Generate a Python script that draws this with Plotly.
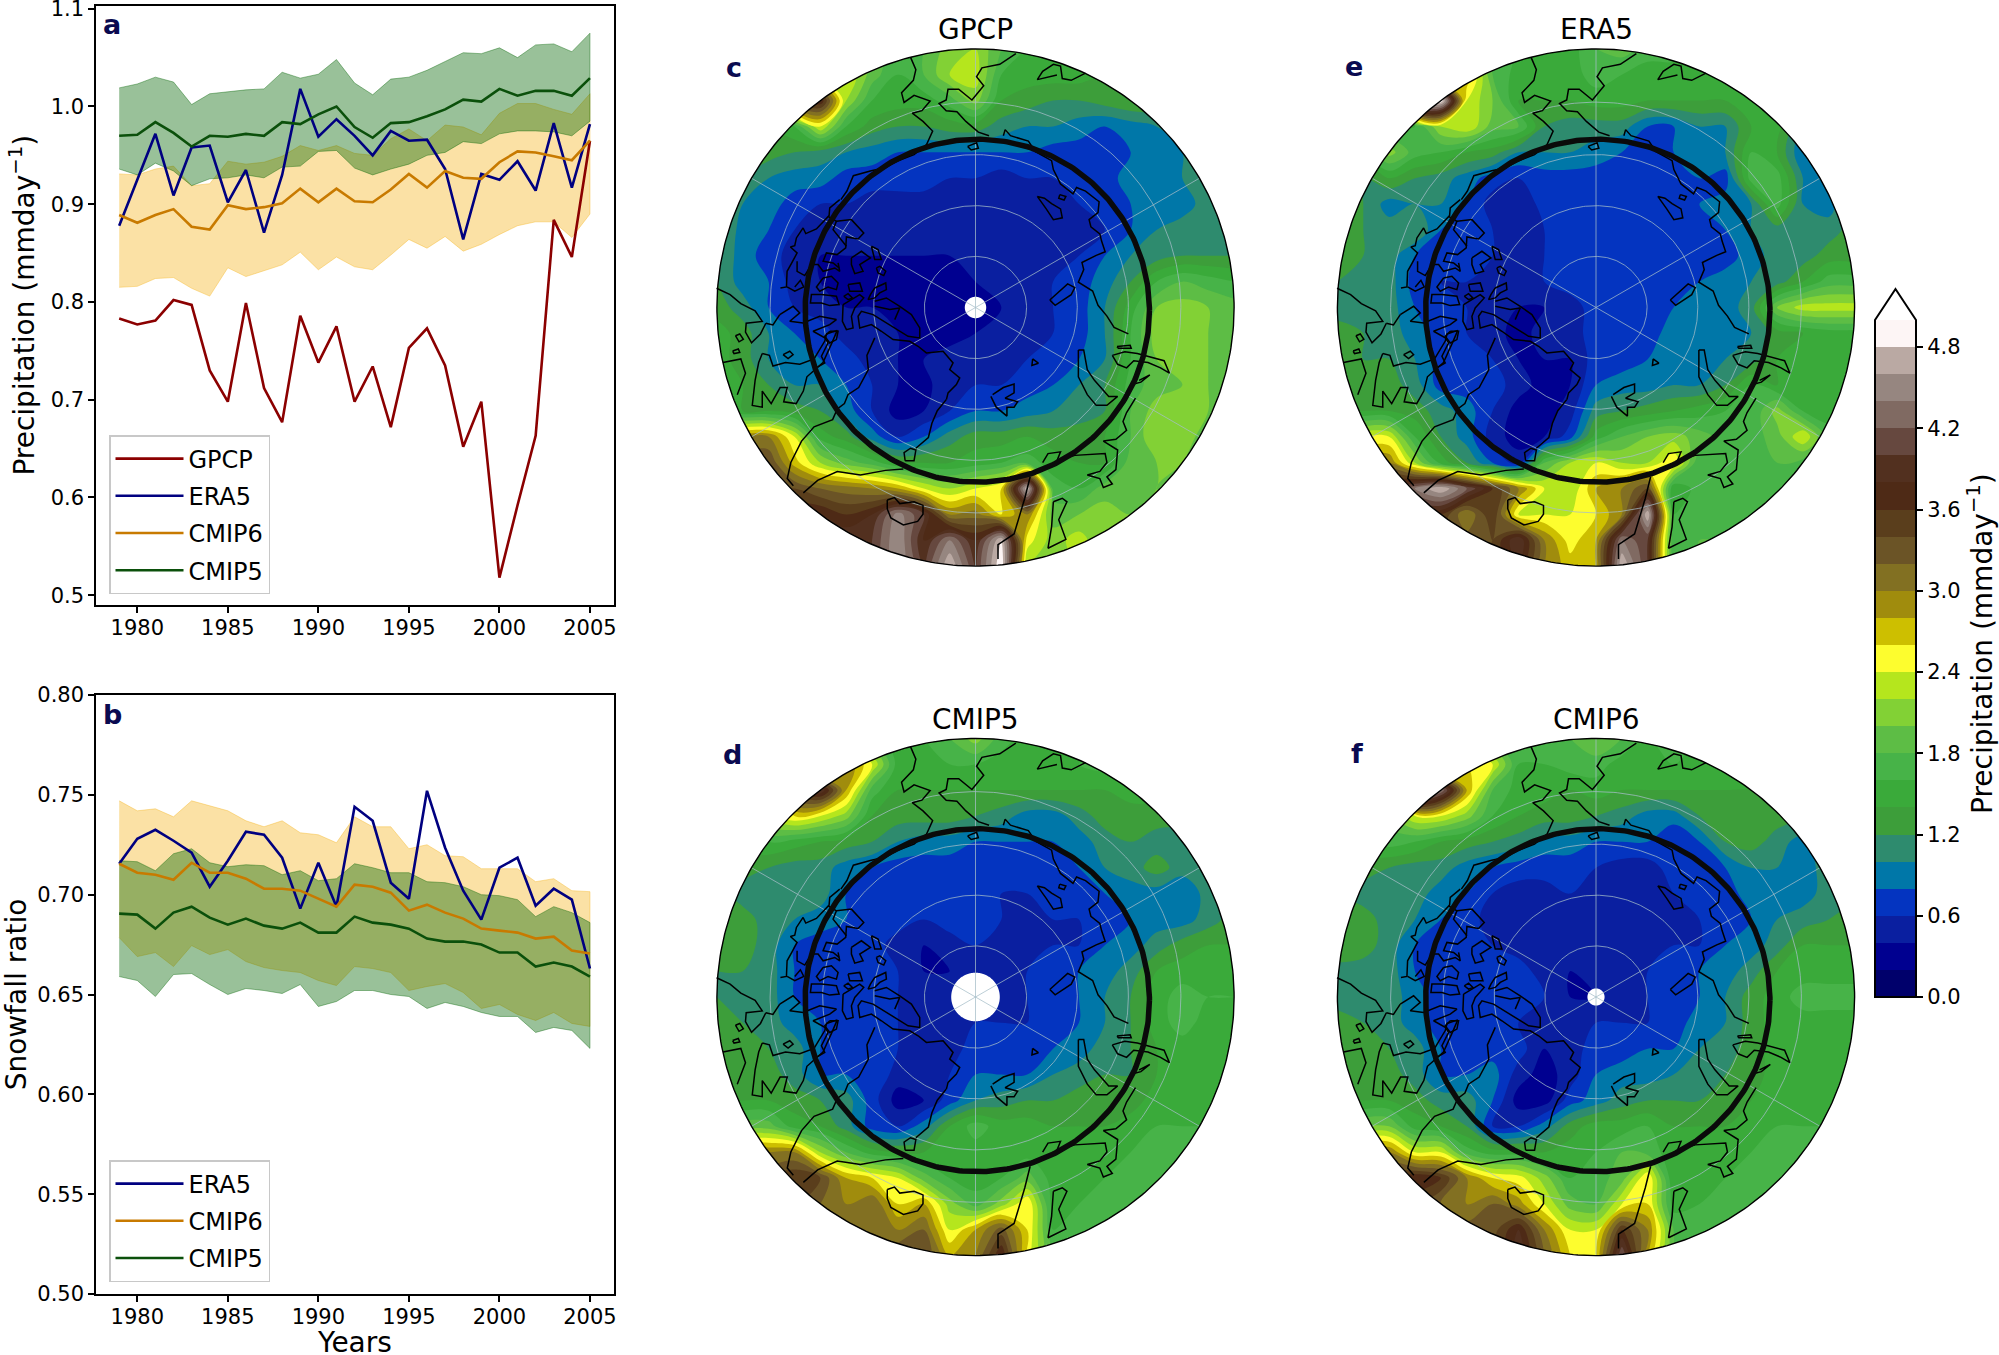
import numpy as np
import plotly.graph_objects as go

W, H = 1999, 1355
FONT = "DejaVu Sans"

# ---------- time series ----------
YEARS = list(range(1979, 2006))

A_GPCP = [.783, .777, .781, .802, .797, .730, .698, .799, .712, .677, .786, .738, .775, .698, .734, .672, .753, .773, .735, .652, .698, .518, .592, .663, .884, .846, .965]
A_ERA5 = [.878, .926, .972, .909, .958, .960, .902, .935, .871, .930, 1.018, .969, .987, .970, .950, .975, .965, .966, .936, .864, .931, .925, .944, .914, .983, .917, .982]
A_CMIP6 = [.889, .881, .889, .895, .877, .874, .899, .895, .897, .901, .916, .902, .916, .903, .902, .915, .931, .917, .934, .927, .926, .943, .954, .953, .949, .945, .965]
A_CMIP5 = [.970, .971, .984, .973, .959, .970, .969, .972, .970, .984, .982, .992, 1.000, .979, .968, .983, .984, .990, .997, 1.007, 1.005, 1.018, 1.011, 1.016, 1.016, 1.011, 1.029]
A_CMIP5_HI = [1.019, 1.023, 1.030, 1.025, 1.002, 1.013, 1.015, 1.017, 1.018, 1.035, 1.029, 1.033, 1.048, 1.024, 1.012, 1.028, 1.030, 1.037, 1.046, 1.055, 1.054, 1.060, 1.050, 1.063, 1.064, 1.056, 1.075]
A_CMIP5_LO = [.936, .930, .942, .934, .919, .926, .927, .930, .927, .938, .939, .954, .955, .937, .930, .936, .941, .950, .953, .964, .962, .972, .975, .975, .974, .970, .985]
A_CMIP6_HI = [.931, .930, .936, .939, .919, .921, .944, .941, .943, .949, .960, .955, .960, .952, .950, .967, .977, .965, .981, .979, .971, .993, 1.003, 1.003, .997, .992, 1.013]
A_CMIP6_LO = [.815, .816, .824, .825, .814, .806, .835, .826, .832, .838, .851, .833, .846, .836, .833, .848, .864, .855, .867, .852, .859, .869, .878, .882, .882, .866, .890]

B_ERA5 = [.7155, .728, .7325, .727, .721, .704, .717, .7315, .730, .7185, .693, .716, .694, .744, .737, .706, .698, .752, .7235, .702, .6875, .7135, .7185, .6945, .703, .6975, .663]
B_CMIP6 = [.7155, .711, .710, .7075, .716, .711, .711, .708, .703, .703, .702, .698, .694, .705, .704, .701, .692, .695, .691, .688, .683, .682, .681, .678, .679, .672, .6705]
B_CMIP5 = [.6905, .690, .683, .691, .694, .6885, .685, .688, .6845, .683, .686, .681, .681, .689, .686, .685, .683, .678, .6765, .6765, .675, .671, .671, .664, .666, .664, .659]
B_CMIP6_HI = [.747, .742, .743, .739, .747, .7445, .742, .737, .734, .737, .731, .730, .726, .739, .734, .734, .723, .725, .7195, .719, .713, .713, .713, .7065, .708, .702, .7015]
B_CMIP6_LO = [.6785, .669, .671, .664, .6745, .670, .6725, .6665, .6635, .662, .661, .657, .6545, .664, .663, .661, .652, .654, .6555, .651, .643, .645, .640, .637, .641, .6355, .634]
B_CMIP5_HI = [.717, .7165, .712, .7205, .723, .716, .714, .715, .7145, .710, .712, .707, .708, .7155, .7135, .711, .711, .7065, .706, .704, .700, .6995, .6975, .689, .694, .691, .686]
B_CMIP5_LO = [.659, .657, .649, .660, .6605, .655, .650, .653, .652, .6505, .655, .644, .6465, .652, .652, .650, .649, .643, .646, .644, .641, .639, .639, .631, .6335, .632, .623]

# ---------- maps: precipitation in tenths of mm/day, north to south ----------
MAP_X = np.linspace(48, 1496, 21)
MAP_Y = np.linspace(82, 1530, 21)

GPCP_MAP = [
    [14,14,14,14,14,20,20,16,18,21,22,18,16,15,15,15,15,15,15,15,15],
    [14,14,14,14,20,24,19,16,18,22,23,16,15,15,15,14,14,14,14,14,14],
    [14,14,16,36,38,22,16,15,15,17,21,14,13,12,12,13,14,14,14,14,14],
    [13,13,14,16,24,16,13,12,12,13,13,11,10,10,9,8,9,10,11,13,13],
    [13,13,13,12,11,10,9,8,8,8,8,8,8,7,7,6,8,9,10,12,13],
    [13,12,10,9,9,7,7,7,7,6,6,5,6,6,8,7,9,9,10,12,12],
    [13,10,9,7,6,6,5,5,5,5,5,5,5,5,6,7,8,9,9,11,12],
    [13,9,8,6,5,5,5,5,5,5,5,5,5,5,6,6,8,10,11,11,12],
    [12,9,7,5,4,4,4,4,4,4,5,5,5,5,6,8,10,11,12,12,12],
    [12,9,8,5,4,4,4,3,3,4,4,5,5,6,7,9,12,16,18,17,16],
    [13,11,8,6,5,4,4,4,3,3,3,4,5,6,7,10,15,20,21,20,19],
    [15,13,10,8,7,5,5,4,4,3,4,5,6,6,7,10,16,21,22,20,19],
    [15,13,10,9,8,7,5,4,4,5,5,5,6,7,8,10,16,20,21,20,19],
    [15,14,12,10,10,8,6,4,3,6,6,6,7,8,10,12,17,19,20,20,19],
    [15,14,14,13,12,9,6,3,4,6,8,8,9,10,11,12,18,21,21,20,19],
    [30,30,30,24,15,13,9,6,8,11,13,13,14,13,13,14,18,22,21,19,19],
    [34,34,34,27,22,19,17,14,14,14,15,16,17,15,14,14,19,20,20,19,19],
    [34,34,34,34,32,31,30,28,24,22,24,26,48,17,16,19,19,20,19,19,19],
    [38,38,38,38,38,36,38,45,40,30,31,26,30,19,20,21,20,20,20,20,20],
    [40,40,40,40,40,40,40,46,38,44,38,48,25,21,23,20,20,20,20,20,20],
    [40,40,40,40,40,40,40,46,40,48,40,50,22,21,22,20,20,20,20,20,20],
]
ERA5_MAP = [
    [16,16,16,16,16,22,18,16,15,15,18,19,17,17,16,16,16,16,16,16,16],
    [16,16,16,16,18,28,18,15,15,15,17,16,15,15,15,16,16,16,16,16,16],
    [16,16,16,50,50,24,20,14,14,14,15,15,14,14,14,14,16,16,16,16,16],
    [15,15,15,16,22,24,19,18,12,11,11,11,8,8,10,10,14,15,10,13,15],
    [15,15,21,17,16,14,13,10,10,10,9,8,8,8,9,10,16,14,8,10,15],
    [15,12,14,12,11,9,7,6,7,7,7,7,7,7,8,7,17,17,10,10,13],
    [14,12,9,10,10,8,5,4,7,7,7,7,7,7,8,9,10,17,10,9,13],
    [13,12,11,12,8,7,6,4,6,7,7,7,7,7,7,8,10,11,11,11,13],
    [13,12,11,8,7,7,6,6,6,7,7,7,7,7,7,7,9,11,11,13,13],
    [12,12,11,7,6,6,6,6,6,7,7,7,7,7,8,9,10,11,14,17,17],
    [11,11,11,8,7,6,5,4,4,5,7,7,7,8,9,9,11,20,23,23,23],
    [13,12,11,9,7,6,5,3,5,5,7,7,7,9,9,10,10,13,14,15,15],
    [13,12,12,10,7,7,6,4,4,4,7,7,8,9,10,10,11,14,15,15,14],
    [13,13,13,11,7,7,7,5,3,4,8,9,9,10,10,12,16,14,15,15,14],
    [14,14,14,13,11,9,6,3,3,5,11,12,13,14,15,16,16,21,16,15,15],
    [20,24,24,16,12,9,5,3,4,7,15,18,20,21,19,17,17,19,24,17,17],
    [30,30,30,22,15,12,8,5,18,22,24,22,22,26,16,17,17,18,17,17,17],
    [40,40,40,44,48,42,36,30,24,22,28,30,34,14,17,17,17,17,17,17,17],
    [36,36,36,36,36,30,36,24,24,24,26,30,48,16,17,17,18,18,18,18,18],
    [34,34,34,34,34,33,34,40,30,25,28,44,40,16,18,18,18,18,18,18,18],
    [34,34,34,34,34,33,34,38,30,27,28,48,40,16,18,18,18,18,18,18,18],
]
CMIP5_MAP = [
    [15,15,15,15,15,20,17,15,16,18,21,17,15,15,15,15,15,15,15,15,15],
    [15,15,15,15,18,30,24,15,15,16,16,15,15,15,16,17,17,16,16,16,16],
    [15,15,16,36,40,28,17,14,14,14,14,14,14,14,14,14,15,15,15,15,15],
    [16,16,23,26,24,21,14,13,13,13,12,11,9,9,11,13,13,13,13,14,14],
    [16,15,16,15,14,13,12,10,9,9,8,8,8,8,9,11,12,11,11,13,14],
    [14,13,12,11,11,9,8,7,7,7,7,7,7,7,8,10,11,13,11,12,13],
    [13,11,11,11,11,8,7,7,7,7,7,6,6,7,7,8,9,9,8,11,13],
    [14,13,11,10,9,8,7,7,6,7,7,6,6,6,6,7,8,9,9,11,13],
    [14,13,11,8,7,7,7,5,4,5,6,6,6,6,6,8,9,11,13,14,14],
    [12,12,11,8,7,7,7,6,4,4,6,6,6,7,8,9,11,14,15,15,15],
    [12,12,11,8,7,7,7,6,5,5,6,6,6,7,8,10,12,15,17,16,16],
    [13,12,11,9,8,7,7,6,5,4,6,6,6,7,8,10,12,15,17,15,15],
    [14,13,12,11,8,7,7,6,4,5,7,7,7,8,9,11,12,14,15,15,15],
    [14,14,13,11,8,8,8,5,5,6,8,8,8,10,11,12,12,14,15,15,15],
    [14,14,14,13,12,11,7,3,4,7,10,11,12,12,13,13,13,15,15,15,15],
    [17,19,19,15,14,11,7,6,9,14,17,15,15,14,14,14,15,16,16,16,16],
    [30,30,30,30,22,18,15,14,14,15,15,15,15,15,15,15,16,17,17,17,17],
    [34,34,34,36,34,28,26,24,19,16,15,16,19,15,15,16,16,16,16,16,16],
    [34,34,34,34,32,30,32,26,28,21,17,21,26,15,16,16,16,16,16,16,16],
    [32,32,32,32,32,32,32,30,32,24,28,33,26,16,16,16,16,16,16,16,16],
    [32,32,32,32,32,32,32,34,34,28,30,38,25,18,16,16,16,16,16,16,16],
]
CMIP6_MAP = [
    [16,16,16,16,16,19,17,16,17,18,20,18,16,16,16,16,16,16,16,16,16],
    [16,16,16,16,18,26,24,16,16,17,17,15,15,16,15,15,15,15,15,15,15],
    [16,16,18,50,44,28,18,15,15,14,15,14,14,14,14,14,14,15,15,15,15],
    [16,16,19,24,24,21,16,14,13,13,12,11,9,9,12,14,14,13,13,14,14],
    [16,16,17,16,14,13,12,11,9,9,8,8,8,6,8,12,13,11,9,13,14],
    [14,13,12,11,11,9,8,7,7,7,6,5,5,7,7,8,10,10,9,11,13],
    [12,11,11,11,9,8,6,5,5,6,6,4,5,6,7,7,9,9,9,11,12],
    [13,13,11,10,8,7,5,5,5,5,5,4,6,6,6,7,8,10,11,12,13],
    [14,13,11,8,7,7,6,5,5,5,4,6,6,6,6,8,9,11,14,14,14],
    [11,11,11,8,7,7,7,7,5,4,5,6,6,7,8,9,11,14,15,15,15],
    [11,11,11,9,7,6,7,7,6,4,4,6,6,7,8,10,13,15,17,17,17],
    [13,12,11,9,7,7,7,6,5,5,6,6,6,7,9,10,13,15,15,15,15],
    [14,13,12,11,8,7,7,7,4,5,7,7,8,8,10,11,13,15,15,15,15],
    [14,14,13,11,8,8,9,5,3,5,8,9,9,10,11,12,13,15,15,15,15],
    [14,14,14,13,11,11,8,3,3,7,9,11,12,12,12,13,14,15,15,15,15],
    [18,20,20,15,14,12,6,6,9,13,15,15,16,14,14,14,15,16,16,16,16],
    [30,30,30,24,24,17,15,15,14,15,16,18,17,15,15,15,16,16,16,16,16],
    [36,36,36,38,36,30,26,25,21,16,17,19,26,14,15,16,16,16,16,16,16],
    [34,34,34,34,32,30,32,29,24,19,18,24,26,15,16,16,16,16,16,16,16],
    [33,33,33,33,33,33,33,38,30,24,24,36,30,18,16,16,16,16,16,16,16],
    [33,33,33,33,33,33,33,40,32,26,26,42,28,18,16,16,16,16,16,16,16],
]

# coastlines, same projected units as MAP_X / MAP_Y
COASTS = [
    [(590,105),(605,140),(598,170),(565,205),(572,232),(600,212),(645,228),(622,255),(595,262),(625,285),(652,312),(635,350),(600,378),(555,395),(520,415),(480,423),(430,437),(412,480),(395,504)],
    [(224,826),(205,855),(185,850)],
    [(47,752),(85,770),(115,795),(155,815),(175,845),(130,850),(128,875),(145,905),(170,880),(185,850)],
    [(65,960),(115,950),(128,990),(105,1050)],
    [(175,935),(165,960),(155,1010),(147,1080),(175,1085),(175,1040),(200,1075),(225,1030),(245,1030),(235,1070),(270,1075),(290,1040),(300,1000),(345,960),(370,905),(385,870),(355,880),(350,900),(320,950),(280,965),(240,960),(205,970),(195,940),(175,935)],
    [(100,885),(112,880),(122,895),(110,902),(100,885)],
    [(92,928),(108,922),(112,932),(96,935),(92,928)],
    [(575,1235),(572,1212),(590,1200),(605,1205),(600,1235),(575,1235)],
    [(605,1200),(640,1170),(650,1130),(665,1095),(690,1064)],
    [(490,891),(468,940),(472,980),(445,1030),(415,1050),(405,1075),(385,1090),(372,1120),(320,1140),(285,1180),(255,1240),(245,1285),(262,1305)],
    [(290,1325),(330,1290),(385,1265),(450,1275),(520,1262),(570,1258)],
    [(925,1280),(910,1340),(880,1440),(835,1470),(835,1510)],
    [(525,1345),(545,1338),(560,1355),(600,1350),(625,1360),(625,1385),(610,1405),(570,1415),(535,1395),(525,1370),(525,1345)],
    [(1200,880),(1160,862),(1140,830),(1115,800),(1100,760),(1060,735),(1075,700),(1070,680),(1110,660),(1135,650),(1125,620),(1120,600),(1095,580),(1090,560),(1115,540),(1118,510),(1080,480),(1055,470),(1045,488),(1010,460),(990,420),(985,395),(940,370),(920,340),(870,325),(855,308),(850,325)],
    [(885,95),(840,125),(790,135),(775,160),(795,185),(762,225),(725,195),(695,195),(690,225),(670,235),(690,255),(720,258),(745,285),(780,315),(810,325)],
    [(1080,150),(1040,170),(1015,165),(1010,130),(990,125),(960,145),(945,168),(1000,155)],
    [(1060,925),(1075,925),(1085,980),(1105,1010),(1145,1055),(1170,1055),(1140,1080),(1110,1080),(1085,1050),(1060,1000),(1060,925)],
    [(1155,940),(1190,930),(1225,935),(1260,945),(1300,955),(1315,990),(1290,975),(1255,960),(1215,955),(1195,975),(1170,965),(1155,940)],
    [(1230,1010),(1260,995),(1235,1015),(1215,1020)],
    [(1168,915),(1205,912),(1208,920),(1172,920),(1168,915)],
    [(960,1240),(975,1215),(1010,1210),(1000,1235),(1050,1220),(1135,1215),(1140,1240),(1120,1265),(1085,1275),(1120,1285),(1130,1310),(1155,1300),(1140,1280),(1165,1260),(1170,1205),(1130,1180),(1165,1175),(1195,1150),(1185,1125),(1195,1100),(1220,1060)],
    [(990,1350),(1015,1340),(1028,1350),(1005,1400),(1025,1455),(975,1480),(985,1420),(990,1350)],
    [(820,1050),(850,1030),(880,1020),(880,1045),(855,1060),(890,1070),(880,1085),(860,1085),(860,1110),(830,1085),(815,1055)],
    [(932,950),(948,962),(930,968),(932,950)],
    [(980,785),(1030,740),(1050,750),(1040,770),(995,800),(980,785)],
    [(945,495),(965,500),(985,515),(1010,530),(1015,555),(990,560),(970,530),(945,495)],
    [(1008,490),(1025,495),(1020,505),(1005,500),(1008,490)],
    [(750,355),(775,345),(780,360),(760,365),(750,355)],
]

# archipelago coast, finer units: origin (224, 504), 0.933 projected units each
ARCHIPELAGO = [
    [(180,0),(150,25),(148,48),(110,88),(78,102),(70,85),(50,115),(45,138),(32,142),(52,160),(36,190),(22,215),(20,262),(2,265)],
    [(22,262),(45,275),(72,262),(62,242),(45,262)],
    [(52,185),(52,215),(75,228),(95,195),(115,195),(130,215),(165,205),(180,215),(175,190)],
    [(170,65),(215,60),(252,100),(235,118),(200,112),(198,145),(172,165),(140,160),(130,185),(160,190),(178,205)],
    [(145,50),(170,65),(160,90),(200,140)],
    [(215,175),(245,155),(272,175),(240,195),(250,215),(225,222),(215,195),(215,175)],
    [(275,140),(295,150),(305,180),(285,180),(275,140)],
    [(290,205),(300,200),(318,215),(312,228),(295,220),(290,205)],
    [(130,235),(155,230),(175,250),(170,270),(145,262),(120,275),(110,262),(130,235)],
    [(205,255),(240,250),(248,275),(210,275),(205,255)],
    [(192,290),(205,282),(218,295),(205,300),(192,290)],
    [(285,265),(318,250),(320,270),(300,280),(285,295),(265,300),(272,285),(285,265)],
    [(125,285),(170,290),(178,315),(150,318),(125,310),(92,310),(95,285),(125,285)],
    [(190,315),(240,285),(252,295),(225,325),(215,350),(220,385),(200,390),(188,365),(190,315)],
    [(285,305),(320,295),(360,320),(395,345),(420,385),(420,415),(385,410),(345,385),(290,350),(280,345),(245,335),(235,350),(240,385),(275,375),(305,395),(340,420),(390,425),(415,440),(440,460),(490,455),(520,490),(510,510),(540,535),(530,555),(505,580),(500,600)],
    [(285,320),(330,330),(360,325),(345,360)],
    [(150,395),(175,395),(170,420),(150,430),(135,410),(150,395)],
    [(0,345),(40,320),(60,340),(30,365),(70,370),(120,350),(170,360),(150,375),(100,395),(135,415),(145,430),(125,470),(135,490),(100,510)],
    [(10,465),(30,455),(40,465),(25,477),(10,465)],
]

# one colour per 0.2 mm/day band from 0 to 5
BAND_COLORS = ["#00006b", "#000090", "#0a1fa0", "#0434c0", "#0077a8", "#2e8b6e", "#3d9e3a", "#3aaa3a",
               "#47b348", "#5dbd45", "#82d135", "#b5e61d", "#fdfd2e", "#cdbf00", "#a08c0d", "#827022",
               "#6b5426", "#5a3e1c", "#4e2a16", "#52301f", "#66483f", "#806a62", "#968680", "#baa9a3",
               "#fdf5f5"]
COLORBAR_TICKS = [0, 0.6, 1.2, 1.8, 2.4, 3.0, 3.6, 4.2, 4.8]

# contour fills sample the scale at the middle of each level
scale_colors = [BAND_COLORS[0]] + BAND_COLORS + [BAND_COLORS[-1]]
contour_scale = [[i / (len(scale_colors) - 1), c] for i, c in enumerate(scale_colors)]
n_bands = len(BAND_COLORS)
bar_scale = []
for i, c in enumerate(BAND_COLORS):
    bar_scale += [[i / n_bands, c], [(i + 1) / n_bands, c]]

RED, NAVY, ORANGE, GREEN = "#8b0000", "#000080", "#c87a00", "#0b500b"
ORANGE_FILL = "rgba(245,180,30,0.40)"
GREEN_FILL = "rgba(0,100,0,0.40)"

CX, CY, R = 772, 806, 724   # map pole and rim in projected units
PAD = 12


def xdom(x0, x1):
    return [x0 / W, x1 / W]


def ydom(y0, y1):
    return [1 - y1 / H, 1 - y0 / H]


def label(text, x, y, size, color="black", angle=0):
    return dict(text=text, x=x / W, y=1 - y / H, xref="paper", yref="paper", xanchor="center", yanchor="middle",
                showarrow=False, textangle=angle, font=dict(size=size, color=color))


fig = go.Figure()


def band(x, hi, lo, color, ax):
    fig.add_trace(go.Scatter(
        x=x + x[::-1], y=hi + lo[::-1], fill="toself", fillcolor=color, mode="lines",
        line=dict(color=color, width=1), showlegend=False, hoverinfo="skip", xaxis="x" + ax, yaxis="y" + ax))


def line(x, y, name, color, ax, legend):
    fig.add_trace(go.Scatter(
        x=x, y=y, name=name, mode="lines", line=dict(color=color, width=2.6), legendgroup=name + legend,
        legend=legend, xaxis="x" + ax, yaxis="y" + ax))


# panel a
band(YEARS, A_CMIP6_HI, A_CMIP6_LO, ORANGE_FILL, "")
band(YEARS, A_CMIP5_HI, A_CMIP5_LO, GREEN_FILL, "")
line(YEARS, A_GPCP, "GPCP", RED, "", "legend")
line(YEARS, A_ERA5, "ERA5", NAVY, "", "legend")
line(YEARS, A_CMIP6, "CMIP6", ORANGE, "", "legend")
line(YEARS, A_CMIP5, "CMIP5", GREEN, "", "legend")

# panel b
band(YEARS, B_CMIP6_HI, B_CMIP6_LO, ORANGE_FILL, "2")
band(YEARS, B_CMIP5_HI, B_CMIP5_LO, GREEN_FILL, "2")
line(YEARS, B_ERA5, "ERA5", NAVY, "2", "legend2")
line(YEARS, B_CMIP6, "CMIP6", ORANGE, "2", "legend2")
line(YEARS, B_CMIP5, "CMIP5", GREEN, "2", "legend2")

frame = dict(showgrid=False, zeroline=False, showline=True, mirror=True, linecolor="black", linewidth=1.5,
             ticks="outside", ticklen=6, tickwidth=1.5, tickcolor="black", tickfont=dict(size=21),
             ticklabeloverflow="allow")
year_axis = dict(frame, range=[1977.72, 2006.3], tickmode="array", tickvals=list(range(1980, 2006, 5)),
                 ticklabelstandoff=-3)

layout_axes = {
    "xaxis": dict(year_axis, domain=xdom(96, 613.5), anchor="y"),
    "yaxis": dict(frame, domain=ydom(5.5, 605), anchor="x", range=[0.49, 1.1033], dtick=0.1, tickformat=".1f",
                  title=dict(text="Precipitation (mmday<sup>−1</sup>)", font=dict(size=28), standoff=8)),
    "xaxis2": dict(year_axis, domain=xdom(96, 613.5), anchor="y2"),
    "yaxis2": dict(frame, domain=ydom(695, 1294), anchor="x2", range=[0.5, 0.8], dtick=0.05, tickformat=".2f",
                   title=dict(text="Snowfall ratio", font=dict(size=28), standoff=6)),
}

# maps: name, grid, pole centre in pixels, pole hole radius, panel letter
MAPS = [
    ("GPCP", GPCP_MAP, 975.5, 307.5, 30, "c", 734, 67),
    ("ERA5", ERA5_MAP, 1596, 307.5, 0, "e", 1354, 66),
    ("CMIP5", CMIP5_MAP, 975.5, 997, 68, "d", 732, 754),
    ("CMIP6", CMIP6_MAP, 1596, 997, 24, "f", 1357, 753),
]

theta = np.linspace(0, 2 * np.pi, 361)
annotations = []
px_r = 258.6 * (R + PAD) / R

for k, (name, grid, px, py, hole, letter, lx, ly) in enumerate(MAPS):
    ax = str(k + 3)
    kw = dict(xaxis="x" + ax, yaxis="y" + ax, hoverinfo="skip", showlegend=False)

    fig.add_trace(go.Contour(
        x=MAP_X, y=MAP_Y, z=np.array(grid) / 10, xaxis="x" + ax, yaxis="y" + ax, colorscale=contour_scale,
        autocontour=False, contours=dict(start=0, end=5, size=0.2, coloring="fill", showlines=False),
        line=dict(width=0), showscale=False,
    ))

    # white outside the rim
    lo_x, hi_x, lo_y, hi_y = CX - R - PAD, CX + R + PAD, CY - R - PAD, CY + R + PAD
    mask_x = [lo_x, lo_x, hi_x, hi_x, lo_x, lo_x, CX - R] + list(CX - R * np.cos(theta)) + [lo_x]
    mask_y = [CY, lo_y, lo_y, hi_y, hi_y, CY, CY] + list(CY + R * np.sin(theta)) + [CY]
    fig.add_trace(go.Scatter(x=mask_x, y=mask_y, mode="none", fill="toself", fillcolor="white", **kw))

    if hole:
        fig.add_trace(go.Scatter(x=CX + hole * np.cos(theta), y=CY + hole * np.sin(theta), mode="none",
                                 fill="toself", fillcolor="white", **kw))

    # graticule
    gx, gy = [], []
    for ring in [143, 285, 428, 575]:
        gx += list(CX + ring * np.cos(theta)) + [None]
        gy += list(CY + ring * np.sin(theta)) + [None]
    for ang in np.radians([30, 90, 150, 210, 270, 330]):
        gx += [CX, CX + R * np.cos(ang), None]
        gy += [CY, CY - R * np.sin(ang), None]
    fig.add_trace(go.Scatter(x=gx, y=gy, mode="lines", line=dict(color="rgba(165,190,200,0.75)", width=1), **kw))

    cx, cy = [], []
    for seg in COASTS:
        cx += [p[0] for p in seg] + [None]
        cy += [p[1] for p in seg] + [None]
    for seg in ARCHIPELAGO:
        cx += [224 + 0.933 * p[0] for p in seg] + [None]
        cy += [504 + 0.933 * p[1] for p in seg] + [None]
    fig.add_trace(go.Scatter(x=cx, y=cy, mode="lines", line=dict(color="black", width=1.5), **kw))

    fig.add_trace(go.Scatter(x=777 + 482 * np.cos(theta), y=815 + 480 * np.sin(theta), mode="lines",
                             line=dict(color="#0a0a0a", width=5.5), **kw))
    fig.add_trace(go.Scatter(x=CX + R * np.cos(theta), y=CY + R * np.sin(theta), mode="lines",
                             line=dict(color="black", width=1.4), **kw))

    layout_axes["xaxis" + ax] = dict(domain=xdom(px - px_r, px + px_r), range=[lo_x, hi_x], visible=False,
                                     anchor="y" + ax)
    layout_axes["yaxis" + ax] = dict(domain=ydom(py - px_r, py + px_r), range=[hi_y, lo_y], visible=False,
                                     anchor="x" + ax)
    annotations.append(label(name, px, py - 278, 28))
    annotations.append(label("<b>%s</b>" % letter, lx, ly, 27, "#0a0a50"))

# colour bar as a one column heatmap, so the arrow outline can sit on top of it
bar_levels = np.arange(0.1, 5, 0.2)
fig.add_trace(go.Heatmap(
    x=[0], y=bar_levels, z=[[v] for v in bar_levels], zmin=0, zmax=5, colorscale=bar_scale, showscale=False,
    hoverinfo="skip", xaxis="x7", yaxis="y7",
))
layout_axes["xaxis7"] = dict(domain=xdom(1875, 1916), range=[-0.5, 0.5], visible=False, anchor="y7")
layout_axes["yaxis7"] = dict(domain=ydom(320, 997), range=[0, 5], side="right", anchor="x7", showgrid=False,
                             zeroline=False, showline=False, tickmode="array", tickvals=COLORBAR_TICKS,
                             tickformat=".1f", ticks="outside", ticklen=6, tickwidth=1.5, tickcolor="black",
                             tickfont=dict(size=21), ticklabeloverflow="allow")

annotations.append(label("<b>a</b>", 112, 25, 27, "#0a0a50"))
annotations.append(label("<b>b</b>", 112, 714, 27, "#0a0a50"))
annotations.append(label("Years", 354, 1342, 28))
annotations.append(label("Precipitation (mmday<sup>−1</sup>)", 1980, 644, 28, angle=-90))

legend_style = dict(xanchor="left", yanchor="top", font=dict(size=24), bgcolor="rgba(255,255,255,0.85)",
                    bordercolor="#c8c8c8", borderwidth=1.5, itemwidth=68, entrywidth=88, entrywidthmode="pixels",
                    tracegroupgap=3, traceorder="grouped", itemclick=False, itemdoubleclick=False)

fig.update_layout(
    width=W, height=H, margin=dict(l=0, r=0, t=0, b=0, autoexpand=False), paper_bgcolor="white", plot_bgcolor="white",
    font=dict(family=FONT, color="black"),
    legend=dict(legend_style, x=109 / W, y=1 - 435 / H),
    legend2=dict(legend_style, x=109 / W, y=1 - 1160 / H),
    annotations=annotations,
    # colour bar outline with the extension triangle on top
    shapes=[dict(type="path", xref="paper", yref="paper", layer="above",
                 path="M %f,%f L %f,%f L %f,%f L %f,%f L %f,%f Z" % (
                     1875 / W, 1 - 997 / H, 1916 / W, 1 - 997 / H, 1916 / W, 1 - 320 / H,
                     1895.5 / W, 1 - 289 / H, 1875 / W, 1 - 320 / H),
                 line=dict(color="black", width=2))],
    **layout_axes,
)

fig.write_html("out.html", config={"displayModeBar": False}, post_script="document.body.style.margin = '0';")
